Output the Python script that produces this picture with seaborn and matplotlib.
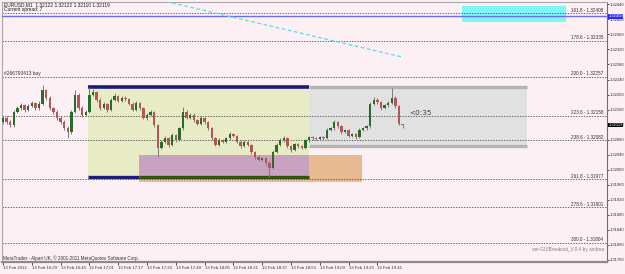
import numpy as np
import pandas as pd
import matplotlib
matplotlib.use("Agg")
import matplotlib.pyplot as plt
import seaborn as sns
from matplotlib.patches import Rectangle

# ---------------- data ----------------
bar_minutes = list(range(0, 224, 2))  # minutes after 16:13 (13 Feb 2012)

opens = [
1.32128,1.32138,1.32127,1.32119,1.32154,1.32164,1.32172,1.32159,1.32170,1.32178,
1.32164,1.32175,1.32212,1.32191,1.32164,1.32154,1.32138,1.32127,1.32111,1.32100,
1.32154,1.32199,1.32164,1.32146,1.32154,1.32199,1.32207,1.32186,1.32164,1.32175,
1.32159,1.32186,1.32196,1.32183,1.32191,1.32188,1.32175,1.32159,1.32178,1.32164,
1.32138,1.32146,1.32154,1.32119,1.32058,1.32074,1.32084,1.32066,1.32092,1.32079,
1.32111,1.32154,1.32138,1.32146,1.32132,1.32122,1.32138,1.32127,1.32111,1.32084,
1.32066,1.32079,1.32074,1.32084,1.32095,1.32090,1.32074,1.32063,1.32074,1.32066,
1.32047,1.32034,1.32026,1.32031,1.32018,1.32005,1.32047,1.32066,1.32079,1.32084,
1.32063,1.32052,1.32068,1.32063,1.32058,1.32079,1.32087,1.32084,1.32082,1.32087,
1.32084,1.32106,1.32111,1.32127,1.32116,1.32100,1.32106,1.32090,1.32095,1.32087,
1.32106,1.32111,1.32116,1.32175,1.32186,1.32180,1.32164,1.32172,1.32178,1.32191,
1.32170,1.32122]

highs = [
1.32145,1.32142,1.32133,1.32160,1.32170,1.32178,1.32176,1.32176,1.32184,1.32181,
1.32182,1.32225,1.32216,1.32196,1.32168,1.32160,1.32142,1.32131,1.32116,1.32158,
1.32212,1.32203,1.32169,1.32160,1.32220,1.32214,1.32210,1.32190,1.32180,1.32178,
1.32190,1.32203,1.32199,1.32197,1.32195,1.32192,1.32179,1.32184,1.32181,1.32168,
1.32152,1.32158,1.32157,1.32122,1.32080,1.32090,1.32087,1.32098,1.32095,1.32115,
1.32167,1.32158,1.32150,1.32151,1.32136,1.32143,1.32141,1.32130,1.32114,1.32087,
1.32084,1.32082,1.32088,1.32100,1.32098,1.32093,1.32078,1.32079,1.32077,1.32069,
1.32050,1.32038,1.32035,1.32034,1.32022,1.32052,1.32072,1.32084,1.32090,1.32087,
1.32067,1.32072,1.32071,1.32066,1.32083,1.32091,1.32090,1.32088,1.32090,1.32089,
1.32110,1.32115,1.32133,1.32130,1.32119,1.32109,1.32108,1.32099,1.32098,1.32110,
1.32114,1.32120,1.32180,1.32194,1.32190,1.32183,1.32176,1.32183,1.32217,1.32195,
1.32173,1.32122]

lows = [
1.32122,1.32122,1.32113,1.32115,1.32150,1.32160,1.32154,1.32155,1.32166,1.32160,
1.32158,1.32171,1.32186,1.32160,1.32149,1.32133,1.32121,1.32106,1.32084,1.32096,
1.32150,1.32160,1.32141,1.32143,1.32150,1.32195,1.32181,1.32160,1.32161,1.32154,
1.32156,1.32182,1.32179,1.32180,1.32184,1.32171,1.32155,1.32156,1.32160,1.32134,
1.32133,1.32142,1.32114,1.32034,1.32054,1.32070,1.32061,1.32063,1.32075,1.32076,
1.32107,1.32134,1.32135,1.32128,1.32118,1.32119,1.32123,1.32107,1.32080,1.32062,
1.32063,1.32070,1.32071,1.32080,1.32086,1.32070,1.32058,1.32060,1.32062,1.32043,
1.32029,1.32022,1.32023,1.32013,1.31981,1.32001,1.32044,1.32062,1.32075,1.32059,
1.32048,1.32049,1.32059,1.32054,1.32055,1.32075,1.32080,1.32078,1.32079,1.32080,
1.32081,1.32102,1.32107,1.32112,1.32096,1.32097,1.32086,1.32087,1.32083,1.32084,
1.32102,1.32107,1.32112,1.32171,1.32176,1.32160,1.32161,1.32168,1.32174,1.32165,
1.32118,1.32110]

closes = [
1.32138,1.32127,1.32119,1.32154,1.32164,1.32172,1.32159,1.32170,1.32178,1.32164,
1.32175,1.32212,1.32191,1.32164,1.32154,1.32138,1.32127,1.32111,1.32100,1.32154,
1.32199,1.32164,1.32146,1.32154,1.32199,1.32207,1.32186,1.32164,1.32175,1.32159,
1.32186,1.32196,1.32183,1.32191,1.32188,1.32175,1.32159,1.32178,1.32164,1.32138,
1.32146,1.32154,1.32119,1.32058,1.32074,1.32084,1.32066,1.32092,1.32079,1.32111,
1.32154,1.32138,1.32146,1.32132,1.32122,1.32138,1.32127,1.32111,1.32084,1.32066,
1.32079,1.32074,1.32084,1.32095,1.32090,1.32074,1.32063,1.32074,1.32066,1.32047,
1.32034,1.32026,1.32031,1.32018,1.32005,1.32047,1.32066,1.32079,1.32084,1.32063,
1.32052,1.32068,1.32063,1.32058,1.32079,1.32087,1.32084,1.32082,1.32087,1.32084,
1.32106,1.32111,1.32127,1.32116,1.32100,1.32106,1.32090,1.32095,1.32087,1.32106,
1.32111,1.32116,1.32175,1.32186,1.32180,1.32164,1.32172,1.32178,1.32191,1.32170,
1.32122,1.32119]

x_tick_minutes = [0, 16, 32, 48, 64, 80, 96, 112, 128, 144, 160, 176, 192, 208]
x_tick_labels = ["13 Feb 2012", "13 Feb 16:29", "13 Feb 16:45", "13 Feb 17:01",
                 "13 Feb 17:17", "13 Feb 17:33", "13 Feb 17:49", "13 Feb 18:05",
                 "13 Feb 18:21", "13 Feb 18:37", "13 Feb 18:53", "13 Feb 19:09",
                 "13 Feb 19:25", "13 Feb 19:41"]
y_ticks = [1.32440, 1.32400, 1.32360, 1.32320, 1.32280, 1.32240, 1.32200, 1.32160,
           1.32120, 1.32080, 1.32040, 1.32000, 1.31960, 1.31920, 1.31880, 1.31840,
           1.31800, 1.31760]

fib_prices = [1.32417, 1.32343, 1.32248, 1.32144, 1.32078, 1.31975, 1.31901, 1.31806]
fib_labels = ["161.8 - 1.32408", "178.6 - 1.32335", "200.0 - 1.32257", "223.6 - 1.32158",
              "238.6 - 1.32082", "261.8 - 1.31977", "278.6 - 1.31901", "300.0 - 1.31804"]

ask_level = 1.32408
bid_level = 1.32119

range_box = (47, 170, 1.31981, 1.32220)      # x0, x1, low, high
breakout_box = (170, 291, 1.32063, 1.32220)
purple_box = (75.5, 170, 1.31981, 1.32039)
orange_box = (75.5, 199.5, 1.31967, 1.32039)
cyan_box = (255, 313, 1.32393, 1.32436)
trend_x = [87.2, 221.7]
trend_y = [1.324515, 1.322999]

# ---------------- figure ----------------
sns.set_theme(style="white")
plt.rcParams["font.family"] = ["DejaVu Sans"]
SMALL = ["Liberation Sans", "DejaVu Sans"]
FS = 3.1

W, H = 625, 274
bg = "#fdf0f4"
fig = plt.figure(figsize=(W / 100, H / 100), dpi=100)
fig.patch.set_facecolor(bg)
ax = fig.add_axes([2 / W, 1 - 262 / H, 605 / W, 260 / H])
ax.set_facecolor(bg)
ax.set_xlim(-0.56, 335.56)
ax.set_ylim(1.317546, 1.324462)

def rect(b, color, z):
    ax.add_patch(Rectangle((b[0], b[2]), b[1] - b[0], b[3] - b[2],
                           facecolor=color, edgecolor="none", zorder=z))

rect(range_box, "#e7ebc6", 1)
rect(breakout_box, "#e1e1e1", 1)
rect(orange_box, "#e9ba92", 1.2)
rect(purple_box, "#c9a2c1", 1.4)
rect(cyan_box, "#7ff6f6", 1.5)

# box borders
ax.plot([range_box[0], range_box[1]], [range_box[3]] * 2, color="#1c1c78", lw=2.6, zorder=2,
        solid_capstyle="butt")
ax.plot([range_box[0], purple_box[0]], [range_box[2]] * 2, color="#1c1c78", lw=2.4, zorder=2,
        solid_capstyle="butt")
ax.plot([purple_box[0], range_box[1]], [range_box[2]] * 2, color="#2f5512", lw=2.4, zorder=2,
        solid_capstyle="butt")
ax.plot([breakout_box[0], breakout_box[1]], [breakout_box[3]] * 2, color="#b4b4b4", lw=2.4,
        zorder=2, solid_capstyle="butt")
ax.plot([breakout_box[0], breakout_box[1]], [breakout_box[2]] * 2, color="#b4b4b4", lw=2.4,
        zorder=2, solid_capstyle="butt")

# fib levels
for p, lab in zip(fib_prices, fib_labels):
    ax.axhline(p, color="#4a4a4a", lw=0.6, ls=(0, (1.6, 1.6)), zorder=2.5)
    ax.text(0.9934, p + 0.000012, lab, transform=ax.get_yaxis_transform(), ha="right",
            va="bottom", fontsize=3.3, family=SMALL, color="#303030", zorder=5)
ax.axhline(ask_level, color="#6b6bf2", lw=1.0, zorder=2.6)

# trend line
ax.plot(trend_x, trend_y, color="#4fdff0", lw=0.9, ls=(0, (3, 2)), zorder=2.6)

# candles
df = pd.DataFrame({"t": bar_minutes, "open": opens, "high": highs, "low": lows, "close": closes})
df["bull"] = df["close"] >= df["open"]
ax.vlines(df["t"], df["low"], df["high"], color="#7c7c7c", lw=0.7, zorder=3)
body_low = df[["open", "close"]].min(axis=1)
body_h = (df["close"] - df["open"]).abs().clip(lower=0.000012)
ax.bar(df["t"][df["bull"]], body_h[df["bull"]], bottom=body_low[df["bull"]], width=1.25,
       color="#2b6a2b", zorder=4, linewidth=0)
ax.bar(df["t"][~df["bull"]], body_h[~df["bull"]], bottom=body_low[~df["bull"]], width=1.25,
       color="#b65555", zorder=4, linewidth=0)

# axes styling
ax.yaxis.tick_right()
ax.set_yticks(y_ticks)
ax.set_yticklabels([f"{v:.5f}" for v in y_ticks])
ax.set_xticks(x_tick_minutes)
ax.set_xticklabels(x_tick_labels)
for lbl in ax.get_xticklabels():
    lbl.set_ha("left")
ax.tick_params(axis="y", labelsize=2.95, length=1.2, width=0.6, pad=0.4, colors="#303030",
               right=True, labelfontfamily=SMALL)
ax.tick_params(axis="x", labelsize=FS, length=2, width=0.6, pad=1.2, colors="#303030",
               bottom=True, labelfontfamily=SMALL)
ax.grid(False)
for s in ["left", "top"]:
    ax.spines[s].set_color("#a8a8a8")
    ax.spines[s].set_linewidth(0.8)
ax.spines["right"].set_color("#707070")
ax.spines["right"].set_linewidth(0.8)
ax.spines["bottom"].set_color("#8a8a8a")
ax.spines["bottom"].set_linewidth(1.6)

# price boxes on axis
ax.text(1.0022, bid_level, f"{bid_level:.5f}", transform=ax.get_yaxis_transform(),
        ha="left", va="center", fontsize=2.95, family=SMALL, color="white", zorder=6,
        bbox=dict(boxstyle="square,pad=0.12", facecolor="black", edgecolor="none"))
ax.text(1.0022, ask_level, f"{ask_level:.5f}", transform=ax.get_yaxis_transform(),
        ha="left", va="center", fontsize=2.95, family=SMALL, color="white", zorder=6,
        bbox=dict(boxstyle="square,pad=0.12", facecolor="#2a2af0", edgecolor="none"))

# texts
def ftext(x, y, s, **kw):
    kw.setdefault("family", SMALL)
    fig.text(x / W, 1 - y / H, s, **kw)

ftext(4, 5, "EURUSD,M1  1.32122 1.32122 1.32110 1.32119", fontsize=3.5, va="center",
      color="#202020")
ftext(4, 10, "Current spread: 7", fontsize=3.5, va="center", color="#202020")
ftext(4, 74, "#266790413 buy", fontsize=3.5, va="center", color="#303030")
ftext(409, 113, "<0:35", fontsize=5.2, va="center", color="#404040", family=["DejaVu Sans"])
ftext(3, 258, "MetaTrader - Alpari UK, \u00a9 2001-2011 MetaQuotes Software Corp.",
      fontsize=3.3, va="center", color="#303030")
ftext(604, 249, "ant-GUIBreakout_V.0.4 by andrea", fontsize=3.4, va="center", ha="right",
      color="#808080")

fig.savefig("out.png", dpi=100, facecolor=bg)
